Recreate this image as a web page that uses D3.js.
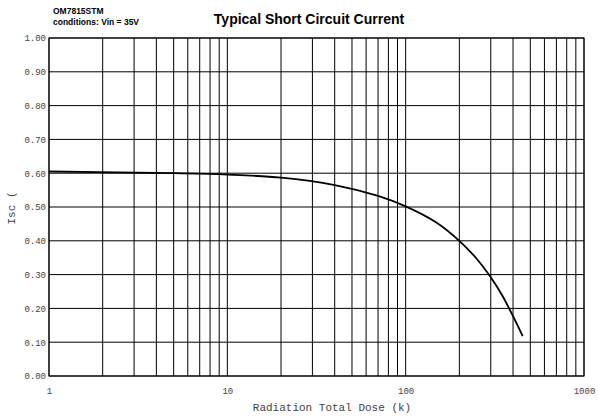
<!DOCTYPE html>
<html lang="en">
<head>
    <meta charset="UTF-8">
    <script src="https://d3js.org/d3.v7.min.js"></script>
    <title>Typical Short Circuit Current</title>
    <style>
        body { margin: 0; background: #fff; }
        svg { display: block; }
        .tick text { font-family: "Liberation Mono", "DejaVu Sans Mono", monospace; font-size: 9px; fill: #444; }
        .axis-title { font-family: "Liberation Mono", monospace; font-size: 11px; fill: #444; }
        .title { font-family: "Liberation Sans", Arial, sans-serif; font-weight: bold; }
    </style>
</head>
<body>
<svg width="598" height="418"></svg>
<script>
    // dose (k) vs short circuit current
    const dose = [1, 5, 10, 20, 40, 70, 100, 150, 200, 250, 300, 350, 400, 453]
    const isc = [0.605, 0.600, 0.596, 0.587, 0.565, 0.533, 0.502, 0.453, 0.400, 0.347, 0.292, 0.236, 0.177, 0.118]
    const xTicks = [1, 10, 100, 1000]
    const yTicks = [0, 0.1, 0.2, 0.3, 0.4, 0.5, 0.6, 0.7, 0.8, 0.9, 1.0]

    const margin = { left: 49, right: 14, top: 38, bottom: 42 }
    const width = 598, height = 418
    const svg = d3.select("svg")

    const x = d3.scaleLog().domain([1, 1000]).range([margin.left, width - margin.right])
    const y = d3.scaleLinear().domain([0, 1]).range([height - margin.bottom, margin.top])

    // vertical grid: 1..10, 20..100, 200..1000
    const vGrid = []
    for (let d = 1; d <= 100; d *= 10)
        for (let k = 1; k <= 10; k++) vGrid.push(d * k)
    svg.append("g").selectAll("line")
        .data(Array.from(new Set(vGrid)))
        .enter().append("line")
        .attr("x1", d => x(d)).attr("x2", d => x(d))
        .attr("y1", y(0)).attr("y2", y(1))
        .attr("stroke", "#000").attr("stroke-width", 1)

    svg.append("g").selectAll("line")
        .data(yTicks)
        .enter().append("line")
        .attr("x1", x(1)).attr("x2", x(1000))
        .attr("y1", d => y(d)).attr("y2", d => y(d))
        .attr("stroke", "#000").attr("stroke-width", 1)

    // axes (labels only)
    const xAxis = svg.append("g")
        .attr("transform", `translate(0,${y(0)})`)
        .call(d3.axisBottom(x).tickValues(xTicks).tickFormat(d3.format("d")).tickSize(0).tickPadding(12))
    xAxis.select(".domain").remove()

    const yAxis = svg.append("g")
        .attr("transform", `translate(${x(1)},0)`)
        .call(d3.axisLeft(y).tickValues(yTicks).tickFormat(d3.format(".2f")).tickSize(0).tickPadding(3))
    yAxis.select(".domain").remove()

    // frame
    svg.append("rect")
        .attr("x", x(1)).attr("y", y(1))
        .attr("width", x(1000) - x(1)).attr("height", y(0) - y(1))
        .attr("fill", "none").attr("stroke", "#000")

    // curve
    const line = d3.line()
        .x((d, i) => x(dose[i]))
        .y(d => y(d))
        .curve(d3.curveCatmullRom.alpha(0.5))
    svg.append("path")
        .datum(isc)
        .attr("d", line)
        .attr("fill", "none")
        .attr("stroke", "#000")
        .attr("stroke-width", 1.8)

    // titles
    svg.append("text").attr("class", "title")
        .attr("x", 309).attr("y", 24)
        .attr("text-anchor", "middle").attr("font-size", "14px")
        .text("Typical Short Circuit Current")
    svg.append("text").attr("class", "title")
        .attr("x", 53).attr("y", 14).attr("font-size", "8.5px")
        .text("OM7815STM")
    svg.append("text").attr("class", "title")
        .attr("x", 53).attr("y", 25).attr("font-size", "8.5px")
        .text("conditions: Vin = 35V")

    svg.append("text").attr("class", "axis-title")
        .attr("x", 332).attr("y", 411)
        .attr("text-anchor", "middle")
        .text("Radiation Total Dose (k)")
    svg.append("text").attr("class", "axis-title")
        .attr("transform", "translate(15,208) rotate(-90)")
        .attr("text-anchor", "middle")
        .text("Isc (")
</script>
</body>
</html>
